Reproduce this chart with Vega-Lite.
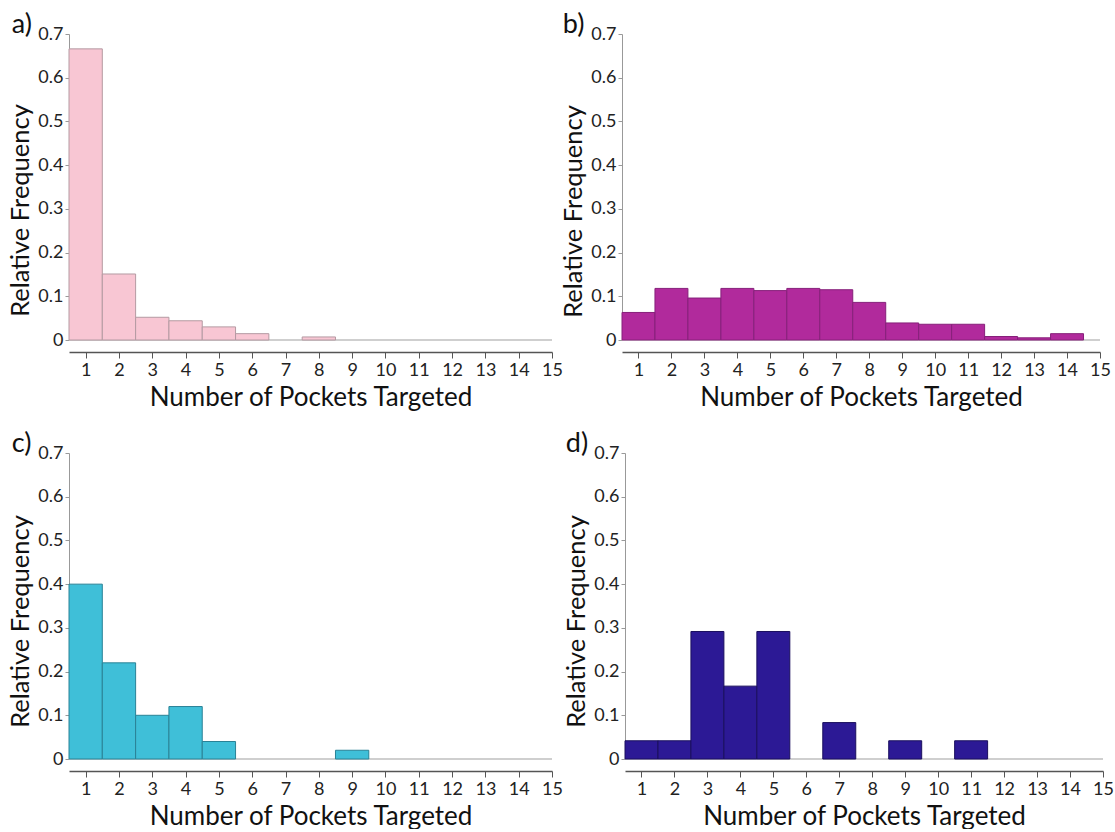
{
  "$schema": "https://vega.github.io/schema/vega-lite/v6.json",
  "background": "white",
  "padding": {"left": 8, "top": 11, "right": 0, "bottom": 0},
  "datasets": {
    "a": [
      {"pockets": 1, "lo": 0.5, "hi": 1.5, "freq": 0.666},
      {"pockets": 2, "lo": 1.5, "hi": 2.5, "freq": 0.151},
      {"pockets": 3, "lo": 2.5, "hi": 3.5, "freq": 0.052},
      {"pockets": 4, "lo": 3.5, "hi": 4.5, "freq": 0.044},
      {"pockets": 5, "lo": 4.5, "hi": 5.5, "freq": 0.030},
      {"pockets": 6, "lo": 5.5, "hi": 6.5, "freq": 0.0145},
      {"pockets": 8, "lo": 7.5, "hi": 8.5, "freq": 0.007}
    ],
    "b": [
      {"pockets": 1, "lo": 0.5, "hi": 1.5, "freq": 0.063},
      {"pockets": 2, "lo": 1.5, "hi": 2.5, "freq": 0.118},
      {"pockets": 3, "lo": 2.5, "hi": 3.5, "freq": 0.096},
      {"pockets": 4, "lo": 3.5, "hi": 4.5, "freq": 0.118},
      {"pockets": 5, "lo": 4.5, "hi": 5.5, "freq": 0.113},
      {"pockets": 6, "lo": 5.5, "hi": 6.5, "freq": 0.118},
      {"pockets": 7, "lo": 6.5, "hi": 7.5, "freq": 0.115},
      {"pockets": 8, "lo": 7.5, "hi": 8.5, "freq": 0.086},
      {"pockets": 9, "lo": 8.5, "hi": 9.5, "freq": 0.039},
      {"pockets": 10, "lo": 9.5, "hi": 10.5, "freq": 0.036},
      {"pockets": 11, "lo": 10.5, "hi": 11.5, "freq": 0.036},
      {"pockets": 12, "lo": 11.5, "hi": 12.5, "freq": 0.008},
      {"pockets": 13, "lo": 12.5, "hi": 13.5, "freq": 0.005},
      {"pockets": 14, "lo": 13.5, "hi": 14.5, "freq": 0.0145}
    ],
    "c": [
      {"pockets": 1, "lo": 0.5, "hi": 1.5, "freq": 0.40},
      {"pockets": 2, "lo": 1.5, "hi": 2.5, "freq": 0.22},
      {"pockets": 3, "lo": 2.5, "hi": 3.5, "freq": 0.10},
      {"pockets": 4, "lo": 3.5, "hi": 4.5, "freq": 0.12},
      {"pockets": 5, "lo": 4.5, "hi": 5.5, "freq": 0.04},
      {"pockets": 9, "lo": 8.5, "hi": 9.5, "freq": 0.02}
    ],
    "d": [
      {"pockets": 1, "lo": 0.5, "hi": 1.5, "freq": 0.0417},
      {"pockets": 2, "lo": 1.5, "hi": 2.5, "freq": 0.0417},
      {"pockets": 3, "lo": 2.5, "hi": 3.5, "freq": 0.2917},
      {"pockets": 4, "lo": 3.5, "hi": 4.5, "freq": 0.1667},
      {"pockets": 5, "lo": 4.5, "hi": 5.5, "freq": 0.2917},
      {"pockets": 7, "lo": 6.5, "hi": 7.5, "freq": 0.0833},
      {"pockets": 9, "lo": 8.5, "hi": 9.5, "freq": 0.0417},
      {"pockets": 11, "lo": 10.5, "hi": 11.5, "freq": 0.0417}
    ]
  },
  "spacing": 20,
  "vconcat": [
    {
      "spacing": -2,
      "hconcat": [
        {
          "width": 483, "height": 306,
          "title": {"text": "a)", "dx": 3},
          "data": {"name": "a"},
          "layer": [
            {"mark": {"type": "rule", "color": "#cfcfcf", "strokeWidth": 1.5}, "encoding": {"y": {"datum": 0, "type": "quantitative", "scale": {"domain": [0, 0.7], "nice": false}}}},
            {"mark": {"type": "bar", "fill": "#f8c6d3", "stroke": "#b49aa2", "strokeWidth": 1},
             "encoding": {
               "x": {"field": "lo", "type": "quantitative", "scale": {"domain": [0.5, 15], "nice": false, "zero": false}, "axis": {"title": "Number of Pockets Targeted", "values": [1,2,3,4,5,6,7,8,9,10,11,12,13,14,15]}},
               "x2": {"field": "hi"},
               "y": {"field": "freq", "type": "quantitative", "scale": {"domain": [0, 0.7], "nice": false}, "axis": {"title": "Relative Frequency", "titleY": 176, "values": [0,0.1,0.2,0.3,0.4,0.5,0.6,0.7]}},
               "y2": {"datum": 0}
             }}
          ]
        },
        {
          "width": 478, "height": 306,
          "title": {"text": "b)", "dx": 1},
          "data": {"name": "b"},
          "layer": [
            {"mark": {"type": "rule", "color": "#cfcfcf", "strokeWidth": 1.5}, "encoding": {"y": {"datum": 0, "type": "quantitative", "scale": {"domain": [0, 0.7], "nice": false}}}},
            {"mark": {"type": "bar", "fill": "#b12a9c", "stroke": "#86207a", "strokeWidth": 1},
             "encoding": {
               "x": {"field": "lo", "type": "quantitative", "scale": {"domain": [0.5, 15], "nice": false, "zero": false}, "axis": {"title": "Number of Pockets Targeted", "values": [1,2,3,4,5,6,7,8,9,10,11,12,13,14,15]}},
               "x2": {"field": "hi"},
               "y": {"field": "freq", "type": "quantitative", "scale": {"domain": [0, 0.7], "nice": false}, "axis": {"title": "Relative Frequency", "titleY": 177, "values": [0,0.1,0.2,0.3,0.4,0.5,0.6,0.7]}},
               "y2": {"datum": 0}
             }}
          ]
        }
      ]
    },
    {
      "spacing": 1,
      "hconcat": [
        {
          "width": 483, "height": 306,
          "title": {"text": "c)", "dx": 3},
          "data": {"name": "c"},
          "layer": [
            {"mark": {"type": "rule", "color": "#cfcfcf", "strokeWidth": 1.5}, "encoding": {"y": {"datum": 0, "type": "quantitative", "scale": {"domain": [0, 0.7], "nice": false}}}},
            {"mark": {"type": "bar", "fill": "#3fbfd8", "stroke": "#2a8296", "strokeWidth": 1},
             "encoding": {
               "x": {"field": "lo", "type": "quantitative", "scale": {"domain": [0.5, 15], "nice": false, "zero": false}, "axis": {"title": "Number of Pockets Targeted", "values": [1,2,3,4,5,6,7,8,9,10,11,12,13,14,15]}},
               "x2": {"field": "hi"},
               "y": {"field": "freq", "type": "quantitative", "scale": {"domain": [0, 0.7], "nice": false}, "axis": {"title": "Relative Frequency", "titleY": 168, "values": [0,0.1,0.2,0.3,0.4,0.5,0.6,0.7]}},
               "y2": {"datum": 0}
             }}
          ]
        },
        {
          "width": 478, "height": 306,
          "title": {"text": "d)", "dx": 1},
          "data": {"name": "d"},
          "layer": [
            {"mark": {"type": "rule", "color": "#cfcfcf", "strokeWidth": 1.5}, "encoding": {"y": {"datum": 0, "type": "quantitative", "scale": {"domain": [0, 0.7], "nice": false}}}},
            {"mark": {"type": "bar", "fill": "#2c1995", "stroke": "#1a0f5e", "strokeWidth": 1},
             "encoding": {
               "x": {"field": "lo", "type": "quantitative", "scale": {"domain": [0.5, 15], "nice": false, "zero": false}, "axis": {"title": "Number of Pockets Targeted", "values": [1,2,3,4,5,6,7,8,9,10,11,12,13,14,15]}},
               "x2": {"field": "hi"},
               "y": {"field": "freq", "type": "quantitative", "scale": {"domain": [0, 0.7], "nice": false}, "axis": {"title": "Relative Frequency", "titleY": 168, "values": [0,0.1,0.2,0.3,0.4,0.5,0.6,0.7]}},
               "y2": {"datum": 0}
             }}
          ]
        }
      ]
    }
  ],
  "config": {
    "font": "Lato",
    "view": {"stroke": null},
    "axis": {"labelFont": "Lato", "titleFont": "Lato", "labelColor": "#222222", "titleColor": "#111111", "titleFontWeight": "normal", "labelFontSize": 18, "titleFontSize": 25.5, "grid": false, "labelOverlap": false},
    "axisX": {"offset": 12, "domainColor": "#555555", "tickColor": "#555555", "tickSize": 6, "domainWidth": 1.5, "labelPadding": 3, "titlePadding": 5, "titleFontSize": 26, "labelFlush": false},
    "axisY": {"domainColor": "#999999", "tickColor": "#999999", "tickSize": 4, "format": ".1~f", "labelPadding": 2, "titlePadding": 4},
    "title": {"font": "Lato", "fontSize": 27, "fontWeight": "normal", "anchor": "start", "frame": "bounds", "offset": -14, "color": "#111111"}
  }
}
